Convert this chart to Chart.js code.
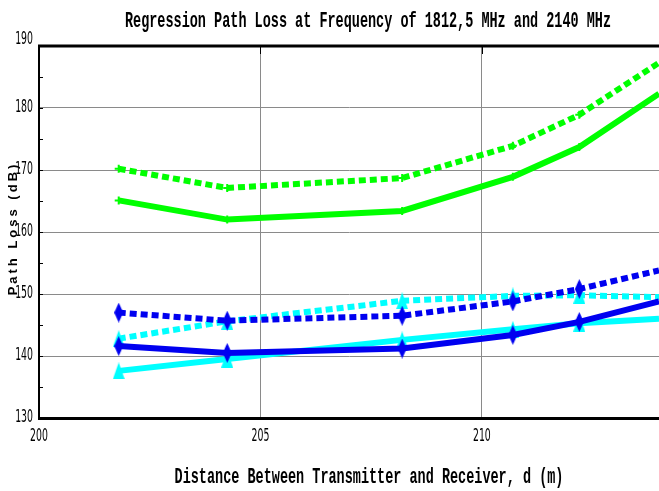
<!DOCTYPE html>
<html><head><meta charset="utf-8">
<script src="https://cdn.jsdelivr.net/npm/chart.js@4/dist/chart.umd.min.js"></script>
<style>html,body{margin:0;padding:0;background:#fff;overflow:hidden}#wrap{width:659px;height:491px;position:relative}</style>
</head><body><div id="wrap"><canvas id="c" width="659" height="491"></canvas></div>
<script>
// ---- data ----
const distances   = [201.8, 204.25, 208.2, 210.7, 212.2, 214.0];
const greenDashed = [170.2, 167.1, 168.7, 173.9, 178.9, 187.3];
const greenSolid  = [165.1, 162.0, 163.4, 168.9, 173.7, 182.3];
const blueDashed  = [147.0, 145.7, 146.5, 148.8, 150.8, 153.8];
const blueSolid   = [141.6, 140.5, 141.2, 143.4, 145.5, 148.8];
const cyanDashed  = [142.8, 145.6, 148.9, 149.7, 149.8, 149.5];
const cyanSolid   = [137.6, 139.5, 142.6, 144.3, 145.3, 146.0];
const xTicks = [200, 205, 210];
const yTicks = [130, 140, 150, 160, 170, 180, 190];
const yMinorTicks = [135, 145, 155, 165, 175, 185];
const titleText = 'Regression Path Loss at Frequency of 1812,5 MHz and 2140 MHz';
const xTitleText = 'Distance Between Transmitter and Receiver, d (m)';
const yTitleText = 'Path Loss (dB)';

function makeDiamond(color, w, h) {
  const c = document.createElement('canvas'); c.width = w; c.height = h;
  const x = c.getContext('2d');
  x.beginPath(); x.moveTo(w/2, 0); x.lineTo(w, h/2); x.lineTo(w/2, h); x.lineTo(0, h/2); x.closePath();
  x.fillStyle = color; x.fill();
  return c;
}
function makeTriangle(color, w, h) {
  const c = document.createElement('canvas'); c.width = w; c.height = h;
  const x = c.getContext('2d');
  x.beginPath(); x.moveTo(w/2, 0); x.lineTo(w, h); x.lineTo(0, h); x.closePath();
  x.fillStyle = color; x.fill();
  return c;
}
const blueDiamond = makeDiamond('#0000f0', 9, 20);
const cyanTri = makeTriangle('#00ffff', 12, 17);

function pts(ys) { return distances.map((d, i) => ({x: d, y: ys[i]})); }
function radii(r) { return distances.map((d, i) => i === distances.length - 1 ? 0 : r); }

function ds(label, ys, color, dashed, style, r) {
  return {
    label, data: pts(ys), borderColor: color, backgroundColor: color,
    borderWidth: 6, borderDash: dashed ? [7, 4] : [], borderCapStyle: 'butt',
    borderJoinStyle: 'miter', tension: 0, fill: false,
    pointStyle: style, pointRadius: radii(r), pointBorderWidth: 2,
    pointBorderColor: color, pointBackgroundColor: color, clip: 0
  };
}

const narrowFont = '"Liberation Sans Narrow", "DejaVu Sans Condensed", sans-serif';

const textPlugin = {
  id: 'texts',
  afterDraw(chart) {
    const ctx = chart.ctx;
    const a = chart.chartArea;
    const ys = chart.scales.y, xs = chart.scales.x;
    ctx.save();
    ctx.strokeStyle = '#000'; ctx.lineWidth = 3;
    ctx.beginPath(); ctx.moveTo(a.left - 1, a.top); ctx.lineTo(a.right, a.top); ctx.stroke();
    ctx.lineWidth = 1;
    yMinorTicks.concat(yTicks).forEach(v => {
      const p = Math.round(ys.getPixelForValue(v)) + 0.5;
      ctx.beginPath(); ctx.moveTo(a.left, p); ctx.lineTo(a.left + 4, p); ctx.stroke();
    });
    xTicks.forEach(v => {
      const p = Math.round(xs.getPixelForValue(v)) + 0.5;
      ctx.beginPath(); ctx.moveTo(p, a.top); ctx.lineTo(p, a.top + 8); ctx.stroke();
    });
    ctx.restore();

    // tick labels (condensed, tall)
    ctx.save();
    ctx.fillStyle = '#000';
    ctx.font = '13px ' + narrowFont;
    ctx.textBaseline = 'middle';
    yTicks.forEach(v => {
      const p = ys.getPixelForValue(v);
      ctx.save(); ctx.translate(33, v === 190 ? p - 6 : p); ctx.scale(0.8, 1.3);
      ctx.textAlign = 'right'; ctx.fillText(String(v), 0, 0); ctx.restore();
    });
    xTicks.forEach(v => {
      const p = xs.getPixelForValue(v);
      ctx.save(); ctx.translate(p, 437); ctx.scale(0.8, 1.3);
      ctx.textAlign = 'center'; ctx.fillText(String(v), 0, 0); ctx.restore();
    });
    ctx.restore();

    // title
    ctx.save();
    ctx.fillStyle = '#000';
    ctx.font = 'bold 13.5px "Liberation Mono", "DejaVu Sans Mono", monospace';
    ctx.textAlign = 'center'; ctx.textBaseline = 'alphabetic';
    ctx.translate(368, 27); ctx.scale(1, 1.6);
    ctx.fillText(titleText, 0, 0);
    ctx.restore();

    // x title
    ctx.save();
    ctx.fillStyle = '#000';
    ctx.font = 'bold 13.5px "Liberation Mono", "DejaVu Sans Mono", monospace';
    ctx.textAlign = 'center'; ctx.textBaseline = 'alphabetic';
    ctx.translate(369, 483); ctx.scale(1, 1.6);
    ctx.fillText(xTitleText, 0, 0);
    ctx.restore();

    // y title (letter spaced, rotated)
    ctx.save();
    ctx.fillStyle = '#000';
    ctx.font = 'bold 13px "Liberation Sans", Arial, sans-serif';
    ctx.translate(13, 230); ctx.rotate(-Math.PI / 2);
    ctx.textBaseline = 'middle'; ctx.textAlign = 'left';
    const sp = 3;
    let total = 0;
    const wsz = [...yTitleText].map(ch => { const w = ctx.measureText(ch).width; total += w; return w; });
    total += sp * (wsz.length - 1);
    let cx = -total / 2;
    [...yTitleText].forEach((ch, i) => { ctx.fillText(ch, cx, 0); cx += wsz[i] + sp; });
    ctx.restore();
  }
};

new Chart(document.getElementById('c'), {
  type: 'line',
  data: {
    datasets: [
      ds('2140 MHz (dashed)', blueDashed, '#0000f0', true, blueDiamond, 6),
      ds('2140 MHz', blueSolid, '#0000f0', false, blueDiamond, 6),
      ds('1812,5 MHz (dashed)', greenDashed, '#00ff00', true, 'cross', 4),
      ds('1812,5 MHz', greenSolid, '#00ff00', false, 'cross', 4),
      ds('Cyan (dashed)', cyanDashed, '#00ffff', true, cyanTri, 6),
      ds('Cyan', cyanSolid, '#00ffff', false, cyanTri, 6)
    ]
  },
  options: {
    responsive: false, animation: false, devicePixelRatio: 1,
    layout: {autoPadding: false, padding: {top: 46, left: 0, right: 0, bottom: 0}},
    plugins: {legend: {display: false}, title: {display: false}, tooltip: {enabled: false}},
    scales: {
      x: {
        type: 'linear', min: 200, max: distances[distances.length - 1],
        afterBuildTicks: s => { s.ticks = xTicks.map(v => ({value: v})); },
        afterFit: s => { s.height = 73; s.paddingLeft = 0; s.paddingRight = 0; },
        ticks: {display: false},
        grid: {drawTicks: false, color: c => c.tick && c.tick.value === 200 ? 'rgba(0,0,0,0)' : '#8a8a8a', lineWidth: 1},
        border: {color: '#000', width: 3}
      },
      y: {
        type: 'linear', min: 130, max: 190,
        afterBuildTicks: s => { s.ticks = yTicks.map(v => ({value: v})); },
        afterFit: s => { s.width = 39; s.paddingTop = 0; s.paddingBottom = 0; },
        ticks: {display: false},
        grid: {drawTicks: false, color: c => c.tick && (c.tick.value === 130 || c.tick.value === 190) ? 'rgba(0,0,0,0)' : '#8a8a8a', lineWidth: 1},
        border: {color: '#000', width: 2}
      }
    }
  },
  plugins: [textPlugin]
});
</script>
</body></html>
